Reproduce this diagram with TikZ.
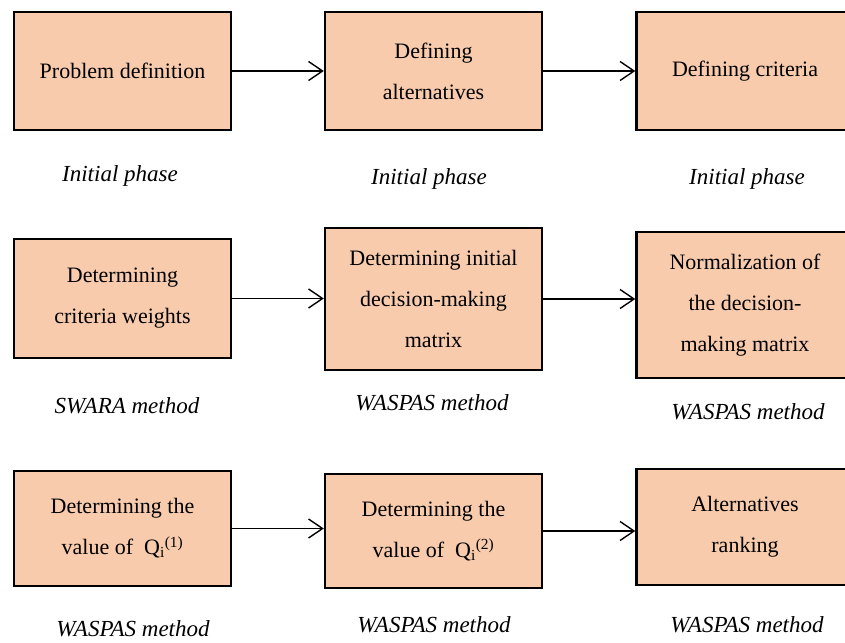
\documentclass[tikz,border=0pt]{standalone}
\usepackage{fontspec}
\setmainfont{Liberation Serif}
\usetikzlibrary{arrows.meta}
\definecolor{boxfill}{HTML}{F8CBAD}
\tikzset{
  stepbox/.style={draw=black, line width=2.4pt, fill=boxfill, minimum width=217pt,
    align=center, inner sep=0pt, font=\fontsize{22}{41}\selectfont},
  phase/.style={anchor=base, inner sep=0pt, font=\fontsize{23}{28}\selectfont\itshape},
  arr/.style={line width=1.4pt, -{Straight Barb[length=14pt, width=19pt, line width=1.4pt]}}
}
\newcommand{\Qv}[1]{Q\textsubscript{i}\textsuperscript{(#1)}}
\begin{document}
\begin{tikzpicture}[x=1pt, y=-1pt]
\useasboundingbox (0,0) rectangle (845,642);
% row 1
\node[stepbox, minimum height=118pt] (b11) at (122.5,71) {Problem definition};
\node[stepbox, minimum height=118pt] (b12) at (433.5,71) {Defining\\alternatives};
\node[stepbox, minimum height=118pt] (b13) at (745,71) {Defining criteria};
\draw[arr] (b11.east) -- (b12.west);
\draw[arr] (b12.east) -- (b13.west);
\node[phase] (l11) at (120,181) {Initial phase};
\node[phase] (l12) at (429,184) {Initial phase};
\node[phase] (l13) at (747,184) {Initial phase};
% row 2
\node[stepbox, minimum height=119pt] (b21) at (122.5,298.5) {Determining\\criteria weights};
\node[stepbox, minimum height=142pt] (b22) at (433.5,299) {Determining initial\\decision-making\\matrix};
\node[stepbox, minimum height=146pt] (b23) at (745,305) {Normalization of\\the decision-\\making matrix};
\draw[arr] (b21.east) -- (b22.west |- b21.east);
\draw[arr] (b22.east) -- (b23.west |- b22.east);
\node[phase] (l21) at (127,413) {SWARA method};
\node[phase] (l22) at (432,410) {WASPAS method};
\node[phase] (l23) at (748,419) {WASPAS method};
% row 3
\node[stepbox, minimum height=115pt] (b31) at (122.5,528.5) {Determining the\\value of~ \Qv{1}};
\node[stepbox, minimum height=114pt] (b32) at (433.5,531) {Determining the\\value of~ \Qv{2}};
\node[stepbox, minimum height=116pt] (b33) at (745,527) {Alternatives\\ranking};
\draw[arr] (b31.east) -- (b32.west |- b31.east);
\draw[arr] (b32.east) -- (b33.west |- b32.east);
\node[phase] (l31) at (133,636) {WASPAS method};
\node[phase] (l32) at (434,632) {WASPAS method};
\node[phase] (l33) at (747,632) {WASPAS method};
\end{tikzpicture}
\end{document}
